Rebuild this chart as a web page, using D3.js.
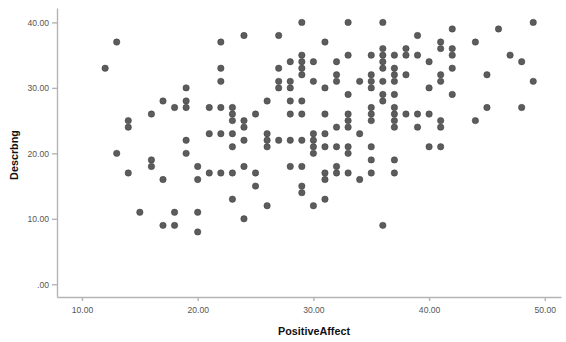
<!DOCTYPE html>
<html>
<head>
<meta charset="utf-8">
<script src="https://cdn.jsdelivr.net/npm/d3@7"></script>
<style>
  body { margin: 0; background: #fff; }
  svg { display: block; font-family: "Liberation Sans", Arial, sans-serif; }
  .axis path, .axis line { stroke: #b4b4b4; stroke-width: 1.4px; }
  .axis text { fill: #555; font-size: 8.6px; }
  .axis-title { font-weight: bold; font-size: 10.8px; fill: #111; }
  .dot { fill: #5c5c5c; stroke: #3c3c3c; stroke-width: 0.5px; }
</style>
</head>
<body>
<div id="chart"></div>
<script>
// PositiveAffect (x) vs Descrbng (y), one list of y values per integer x
const xValues = [12, 13, 14, 15, 16, 17, 18, 19, 20, 21, 22, 23, 24, 25, 26, 27, 28, 29, 30,
  31, 32, 33, 34, 35, 36, 37, 38, 39, 40, 41, 42, 44, 45, 46, 47, 48, 49];
const yValues = [
  [33],
  [37, 20],
  [25, 24, 17],
  [11],
  [26, 19, 18],
  [28, 16, 9],
  [27, 11, 9],
  [30, 28, 27, 22, 20],
  [18, 16, 11, 8],
  [27, 23, 17],
  [37, 33, 31, 27, 23, 17],
  [27, 26, 25, 23, 21, 17, 13],
  [38, 25, 24, 22, 18, 10],
  [26, 17, 15],
  [28, 23, 22, 21, 12],
  [38, 33, 31, 30, 22],
  [34, 31, 30, 28, 26, 22, 18],
  [40, 35, 34, 33, 32, 28, 26, 22, 18, 15, 14],
  [34, 31, 23, 22, 21, 20, 12],
  [37, 30, 26, 23, 21, 17, 16, 13],
  [34, 32, 31, 24, 21, 18, 17],
  [40, 35, 29, 26, 25, 24, 21, 20, 17],
  [31, 23, 16],
  [35, 32, 31, 30, 27, 26, 25, 21, 19, 17],
  [40, 36, 35, 34, 33, 31, 29, 28, 9],
  [35, 33, 32, 31, 29, 27, 26, 25, 24, 19, 17],
  [36, 35, 32, 26],
  [38, 35, 26, 24],
  [34, 30, 26, 21],
  [37, 36, 32, 31, 25, 24, 21],
  [39, 36, 35, 33, 29],
  [37, 25],
  [32, 27],
  [39],
  [35],
  [34, 27],
  [40, 31]
];
const xTicks = [10, 20, 30, 40, 50];
const yTicks = [0, 10, 20, 30, 40];
const xTitle = "PositiveAffect";
const yTitle = "Descrbng";

const width = 566, height = 342;

// flatten into points
const points = [];
xValues.forEach((xv, i) => {
  yValues[i].forEach(yv => points.push({ x: xv, y: yv }));
});

const svg = d3.select("#chart")
  .append("svg")
  .attr("width", width)
  .attr("height", height);

// scales span the whole drawn axis lines
let x = d3.scaleLinear()
  .domain([7.84, 51.4])
  .range([57, 561]);

let y = d3.scaleLinear()
  .domain([-1.94, 42.2])
  .range([297, 8]);

const fmt = d => d === 0 ? ".00" : d.toFixed(2);

// X AXIS
let xAxis = d3.axisBottom(x)
  .tickValues(xTicks)
  .tickFormat(fmt)
  .tickSizeInner(4)
  .tickSizeOuter(0)
  .tickPadding(6);

svg.append("g")
  .attr("class", "axis axis--x")
  .attr("transform", "translate(0," + y.range()[0] + ")")
  .call(xAxis);

// Y AXIS
let yAxis = d3.axisLeft(y)
  .tickValues(yTicks)
  .tickFormat(fmt)
  .tickSizeInner(5)
  .tickSizeOuter(0)
  .tickPadding(3);

svg.append("g")
  .attr("class", "axis axis--y")
  .attr("transform", "translate(" + x.range()[0] + ",0)")
  .call(yAxis);

// titles
svg.append("text")
  .attr("class", "axis-title")
  .attr("x", 314)
  .attr("y", 334.5)
  .attr("text-anchor", "middle")
  .text(xTitle);

svg.append("text")
  .attr("class", "axis-title")
  .attr("transform", "translate(18,155) rotate(-90)")
  .attr("text-anchor", "middle")
  .text(yTitle);

// DRAW POINTS
svg.selectAll(".dot")
  .data(points)
  .enter().append("circle")
  .attr("class", "dot")
  .attr("cx", d => x(d.x))
  .attr("cy", d => y(d.y))
  .attr("r", 3.2);
</script>
</body>
</html>
